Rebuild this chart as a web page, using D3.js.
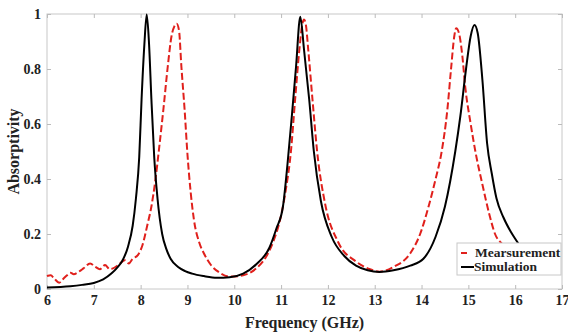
<!DOCTYPE html>
<meta charset="utf-8">
<style>
body { margin: 0; background: #fff; }
text { font-family: "Liberation Serif", "Times New Roman", Times, "DejaVu Serif", serif; font-weight: bold; fill: #222; }
.frame { fill: none; stroke: #c8c8c8; stroke-width: 1px; }
.tick line { stroke: #bbb; }
.sim { fill: none; stroke: #000; stroke-width: 2px; }
.meas { fill: none; stroke: #e0201c; stroke-width: 2px; stroke-dasharray: 7,3; }
</style>
<body>
<script src="https://cdn.jsdelivr.net/npm/d3@7"></script>
<script>
// values
var simFreq = [6.0, 6.5, 6.75, 7.0, 7.2, 7.38, 7.5, 7.6, 7.73, 7.83, 7.9, 7.97, 8.02, 8.08, 8.13, 8.18, 8.23, 8.29, 8.36, 8.46, 8.55, 8.64, 8.8, 8.95, 9.1, 9.35, 9.63, 9.9, 10.19, 10.47, 10.75, 10.9, 11.04, 11.14, 11.23, 11.32, 11.41, 11.49, 11.6, 11.7, 11.85, 12.08, 12.35, 12.6, 12.85, 13.1, 13.4, 13.76, 14.04, 14.3, 14.5, 14.72, 14.83, 14.95, 15.05, 15.13, 15.2, 15.3, 15.4, 15.5, 15.6, 15.75, 15.9, 16.05, 16.2];
var simAbs  = [0.005, 0.01, 0.015, 0.022, 0.035, 0.057, 0.078, 0.1, 0.154, 0.23, 0.33, 0.48, 0.69, 0.89, 0.998, 0.89, 0.69, 0.48, 0.33, 0.2, 0.145, 0.11, 0.08, 0.065, 0.056, 0.047, 0.041, 0.043, 0.056, 0.09, 0.15, 0.22, 0.3, 0.46, 0.63, 0.81, 0.99, 0.87, 0.69, 0.5, 0.32, 0.19, 0.12, 0.085, 0.068, 0.062, 0.068, 0.085, 0.11, 0.19, 0.3, 0.5, 0.63, 0.8, 0.92, 0.96, 0.93, 0.76, 0.53, 0.42, 0.33, 0.26, 0.21, 0.17, 0.13];

var measFreq = [6.0, 6.08, 6.15, 6.26, 6.36, 6.43, 6.5, 6.57, 6.68, 6.78, 6.92, 7.03, 7.13, 7.24, 7.34, 7.41, 7.52, 7.66, 7.75, 7.83, 7.94, 8.04, 8.14, 8.23, 8.31, 8.4, 8.49, 8.58, 8.66, 8.72, 8.77, 8.82, 8.87, 8.94, 9.0, 9.07, 9.14, 9.25, 9.35, 9.49, 9.7, 9.91, 10.19, 10.47, 10.68, 10.85, 10.99, 11.1, 11.21, 11.3, 11.39, 11.45, 11.49, 11.53, 11.58, 11.67, 11.77, 11.94, 12.22, 12.6, 12.9, 13.1, 13.4, 13.76, 13.97, 14.15, 14.3, 14.43, 14.55, 14.63, 14.7, 14.74, 14.8, 14.87, 14.93, 15.05, 15.15, 15.3, 15.45, 15.57, 15.74, 15.9, 16.1];
var measAbs  = [0.047, 0.05, 0.039, 0.023, 0.039, 0.05, 0.059, 0.054, 0.063, 0.075, 0.093, 0.081, 0.072, 0.087, 0.072, 0.075, 0.087, 0.105, 0.093, 0.11, 0.123, 0.16, 0.23, 0.3, 0.39, 0.52, 0.66, 0.81, 0.92, 0.955, 0.965, 0.94, 0.81, 0.65, 0.49, 0.35, 0.25, 0.17, 0.13, 0.09, 0.058, 0.045, 0.05, 0.075, 0.117, 0.18, 0.26, 0.36, 0.5, 0.69, 0.87, 0.96, 0.98, 0.96, 0.87, 0.69, 0.5, 0.31, 0.17, 0.1, 0.072, 0.063, 0.08, 0.13, 0.2, 0.3, 0.4, 0.5, 0.65, 0.8, 0.92, 0.948, 0.93, 0.85, 0.74, 0.6, 0.5, 0.38, 0.27, 0.2, 0.16, 0.12, 0.09];

var xTicks = [6, 7, 8, 9, 10, 11, 12, 13, 14, 15, 16, 17];
var yTicks = [0, 0.2, 0.4, 0.6, 0.8, 1];
var legendNames = ["Mearsurement", "Simulation"];

var width = 568, height = 333;
var margin = {top: 14, right: 6, bottom: 44, left: 47};

var svg = d3.select("body").append("svg")
    .attr("width", width)
    .attr("height", height);

var x = d3.scaleLinear().domain([6, 17]).range([margin.left, width - margin.right]);
var y = d3.scaleLinear().domain([0, 1]).range([height - margin.bottom, margin.top]);

// frame
svg.append("rect")
    .attr("class", "frame")
    .attr("x", x(6)).attr("y", y(1))
    .attr("width", x(17) - x(6)).attr("height", y(0) - y(1));

var fmt = function(d) { return d === 0 || d === 1 ? String(d) : d3.format(".1f")(d); };

var gx = svg.append("g").attr("transform", "translate(0," + y(0) + ")")
    .call(d3.axisBottom(x).tickValues(xTicks).tickSize(-4).tickPadding(6).tickFormat(d3.format("d")));
gx.select(".domain").remove();
gx.selectAll("text").style("font-size", "14px").style("font-family", null);

var gxTop = svg.append("g").attr("transform", "translate(0," + y(1) + ")")
    .call(d3.axisTop(x).tickValues(xTicks).tickSize(-4).tickFormat(""));
gxTop.select(".domain").remove();

var gy = svg.append("g").attr("transform", "translate(" + x(6) + ",0)")
    .call(d3.axisLeft(y).tickValues(yTicks).tickSize(-4).tickPadding(6).tickFormat(fmt));
gy.select(".domain").remove();
gy.selectAll("text").style("font-size", "14px").style("font-family", null);

var gyR = svg.append("g").attr("transform", "translate(" + x(17) + ",0)")
    .call(d3.axisRight(y).tickValues(yTicks).tickSize(-4).tickFormat(""));
gyR.select(".domain").remove();

// d3 axes set a sans font on the group; let the css font win
svg.selectAll("g").attr("font-family", null).attr("font-size", null);

var line = d3.line()
    .x(function(d) { return x(d[0]); })
    .y(function(d) { return y(d[1]); })
    .curve(d3.curveMonotoneX);

svg.append("path").attr("class", "meas")
    .datum(d3.zip(measFreq, measAbs))
    .attr("d", line);

svg.append("path").attr("class", "sim")
    .datum(d3.zip(simFreq, simAbs))
    .attr("d", line);

// axis titles
svg.append("text")
    .attr("x", (x(6) + x(17)) / 2).attr("y", height - 5)
    .attr("text-anchor", "middle")
    .style("font-size", "16px")
    .text("Frequency (GHz)");

svg.append("text")
    .attr("transform", "translate(19," + (y(0.5)) + ") rotate(-90)")
    .attr("text-anchor", "middle")
    .style("font-size", "16px")
    .text("Absorptivity");

// legend
var lg = svg.append("g").attr("transform", "translate(457,243)");
lg.append("rect")
    .attr("width", 104).attr("height", 32)
    .attr("fill", "#fff").attr("stroke", "#c8c8c8");
lg.append("line").attr("x1", 4).attr("x2", 10).attr("y1", 10).attr("y2", 10)
    .attr("stroke", "#e0201c").attr("stroke-width", 2);
lg.append("line").attr("x1", 4).attr("x2", 17).attr("y1", 24).attr("y2", 24)
    .attr("stroke", "#000").attr("stroke-width", 2);
lg.selectAll("text.lab").data(legendNames).enter().append("text")
    .attr("class", "lab")
    .attr("x", function(d, i) { return i === 0 ? 18 : 17; })
    .attr("y", function(d, i) { return 14 + i * 14; })
    .style("font-size", "13.5px")
    .text(function(d) { return d; });
</script>
</body>
